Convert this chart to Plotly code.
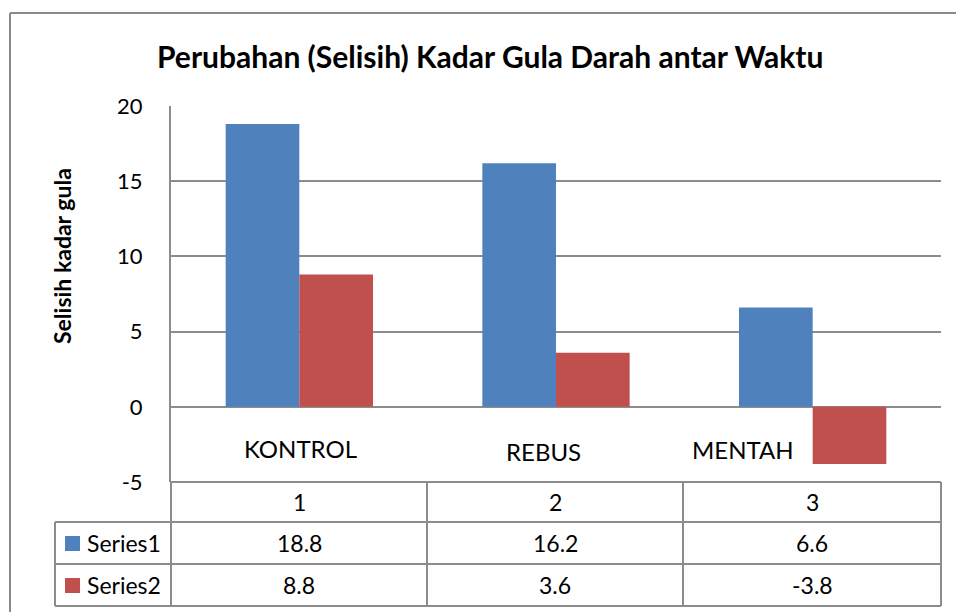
import plotly.graph_objects as go

# ---- data ----
categories = ["KONTROL", "REBUS", "MENTAH"]
table_headers = ["1", "2", "3"]
series_names = ["Series1", "Series2"]
series1 = [18.8, 16.2, 6.6]
series2 = [8.8, 3.6, -3.8]
y_ticks = [-5, 0, 5, 10, 15, 20]

title = "Perubahan (Selisih) Kadar Gula Darah antar Waktu"
y_title = "Selisih kadar gula"

# ---- styling / layout constants ----
W, H = 956, 612
L, R, T, B = 171, 941, 106, 482
PW, PH = R - L, B - T
BLUE = "#4F81BD"
RED = "#C0504D"
GRID = "#8C8C8C"
FONT = "Lato, Carlito, Calibri, sans-serif"
TXT = 23


def px(x):
    return (x - L) / PW


def py(y):
    return (B - y) / PH


xs = list(range(len(categories)))

fig = go.Figure()
fig.add_trace(go.Bar(x=xs, y=series1, name=series_names[0], marker=dict(color=BLUE, line=dict(width=0))))
fig.add_trace(go.Bar(x=xs, y=series2, name=series_names[1], marker=dict(color=RED, line=dict(width=0))))

shapes = []
# outer chart border
shapes.append(dict(type="line", xref="paper", yref="paper", x0=px(10), x1=px(960), y0=py(13), y1=py(13),
                   line=dict(color="#8A8A8A", width=2)))
shapes.append(dict(type="line", xref="paper", yref="paper", x0=px(10), x1=px(10), y0=py(13), y1=py(620),
                   line=dict(color="#8A8A8A", width=2)))

# data table lines
row_y = [482, 522, 564, 606]
col_x = [171, 427, 683, 941]
for i, yy in enumerate(row_y):
    x0 = L if i == 0 else 55
    shapes.append(dict(type="line", xref="paper", yref="paper", x0=px(x0), x1=px(R), y0=py(yy), y1=py(yy),
                       line=dict(color=GRID, width=2)))
for xx in col_x:
    shapes.append(dict(type="line", xref="paper", yref="paper", x0=px(xx), x1=px(xx), y0=py(482), y1=py(606),
                       line=dict(color=GRID, width=2)))
shapes.append(dict(type="line", xref="paper", yref="paper", x0=px(55), x1=px(55), y0=py(522), y1=py(606),
                   line=dict(color=GRID, width=2)))

# legend swatches
for yc, col in [(543, BLUE), (585, RED)]:
    shapes.append(dict(type="rect", xref="paper", yref="paper", x0=px(65), x1=px(80), y0=py(yc - 7), y1=py(yc + 8),
                       fillcolor=col, line=dict(width=0)))

annotations = []
# category labels placed inside plot area under zero line
cat_pos = [(300, 448), (543, 451), (743, 449)]
for name, (cx, cy) in zip(categories, cat_pos):
    annotations.append(dict(text=name, xref="paper", yref="paper", x=px(cx), y=py(cy), showarrow=False,
                            font=dict(size=24, color="black", family=FONT), xanchor="center", yanchor="middle"))

col_centers = [(col_x[i] + col_x[i + 1]) / 2 for i in range(3)]
for i, h in enumerate(table_headers):
    annotations.append(dict(text=h, xref="paper", yref="paper", x=px(col_centers[i]), y=py(502), showarrow=False,
                            font=dict(size=TXT, color="black", family=FONT), xanchor="center", yanchor="middle"))
for row_c, vals, nm in [(543, series1, series_names[0]), (585, series2, series_names[1])]:
    annotations.append(dict(text=nm, xref="paper", yref="paper", x=px(85), y=py(row_c), showarrow=False,
                            font=dict(size=TXT, color="black", family=FONT), xanchor="left", yanchor="middle"))
    for i, v in enumerate(vals):
        annotations.append(dict(text=f"{v:g}", xref="paper", yref="paper", x=px(col_centers[i]), y=py(row_c),
                                showarrow=False, font=dict(size=TXT, color="black", family=FONT),
                                xanchor="center", yanchor="middle"))

# title
annotations.append(dict(text=f"<b>{title}</b>", xref="paper", yref="paper", x=px(490), y=py(56), showarrow=False,
                        font=dict(size=30, color="black", family=FONT), xanchor="center", yanchor="middle"))
# y axis title
annotations.append(dict(text=f"<b>{y_title}</b>", xref="paper", yref="paper", x=px(62), y=py(256), showarrow=False,
                        textangle=-90, font=dict(size=23, color="black", family=FONT),
                        xanchor="center", yanchor="middle"))

fig.update_layout(
    width=W, height=H,
    margin=dict(l=L, r=W - R, t=T, b=H - B, autoexpand=False),
    paper_bgcolor="white", plot_bgcolor="white",
    barmode="group", bargap=0.426, bargroupgap=0,
    showlegend=False,
    shapes=shapes, annotations=annotations,
    xaxis=dict(range=[-0.5, 2.5], showticklabels=False, showgrid=False, zeroline=False, showline=False,
               fixedrange=True),
    yaxis=dict(range=[-5, 20], tickvals=y_ticks, ticktext=[str(t) for t in y_ticks],
               showgrid=True, gridcolor=GRID, gridwidth=1.5,
               zeroline=True, zerolinecolor=GRID, zerolinewidth=1.5,
               showline=True, linecolor=GRID, linewidth=2,
               ticks="", ticklabelstandoff=22,
               tickfont=dict(size=22, color="black", family=FONT)),
)

fig.write_html("out.html", config={"displayModeBar": False},
               post_script="document.body.style.margin='0';document.body.style.overflow='hidden';")
